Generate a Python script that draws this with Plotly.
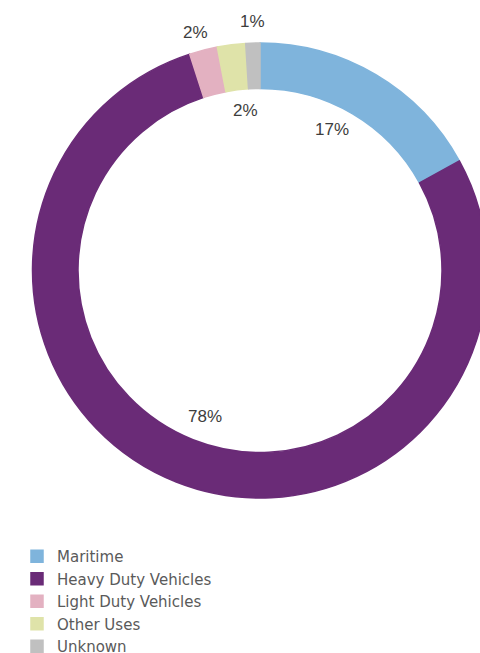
import plotly.graph_objects as go

categories = ["Maritime", "Heavy Duty Vehicles", "Light Duty Vehicles", "Other Uses", "Unknown"]
values = [17, 78, 2, 2, 1]
colors = ["#7fb4dc", "#6a2b77", "#e3b1c1", "#dfe3a9", "#c0c0c0"]
label_texts = ["17%", "78%", "2%", "2%", "1%"]
# label centres in pixels (x, y from top)
label_pos = [(332, 129), (205, 416), (195, 32), (245, 111), (252, 21)]

W, H = 500, 653

fig = go.Figure(go.Pie(
    labels=categories,
    values=values,
    sort=False,
    direction="clockwise",
    rotation=0,
    hole=0.8,
    marker=dict(colors=colors, line=dict(color=colors, width=1.5)),
    textinfo="none",
    domain=dict(x=[(260 - 227.5) / W, (260 + 227.5) / W], y=[1 - 498 / H, 1 - 43 / H]),
))

ann = []
for t, (px, py) in zip(label_texts, label_pos):
    ann.append(dict(x=px / W, y=1 - py / H, xref="paper", yref="paper", text=t,
                    showarrow=False, xanchor="center", yanchor="middle",
                    font=dict(family="Liberation Sans", size=17, color="#3d3d3d")))

fig.update_layout(
    width=W, height=H,
    margin=dict(l=0, r=0, t=0, b=0, autoexpand=False),
    paper_bgcolor="white", plot_bgcolor="white",
    annotations=ann,
    showlegend=True,
    legend=dict(x=17 / W, y=1 - 540 / H, xanchor="left", yanchor="top",
                orientation="v", traceorder="normal",
                font=dict(family="DejaVu Sans", size=15, color="#5a5a5a"),
                bgcolor="rgba(0,0,0,0)", itemclick=False),
)

fig.write_html("out.html", post_script="document.body.style.overflow='hidden';document.documentElement.style.overflow='hidden';")
